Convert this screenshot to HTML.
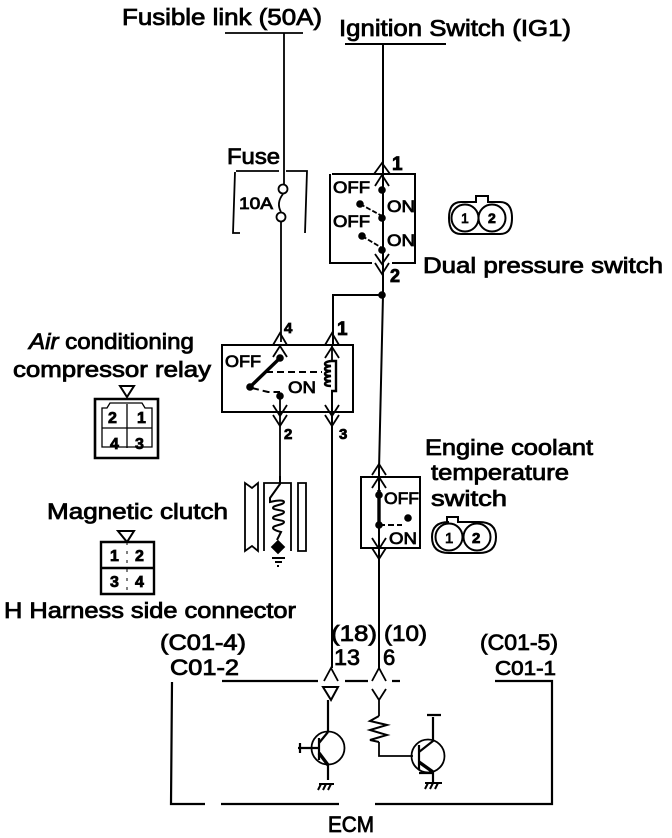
<!DOCTYPE html>
<html><head><meta charset="utf-8">
<style>
html,body{margin:0;padding:0;background:#fff}
svg{display:block}
text{font-family:"Liberation Sans",sans-serif;fill:#000;stroke:#000;stroke-width:.8}
.l{font-size:23px}
.m{font-size:22px}
.s{font-size:17px}
.n{font-size:15px;font-weight:bold}
</style></head><body>
<svg width="672" height="838" viewBox="0 0 672 838" xmlns="http://www.w3.org/2000/svg">
<g fill="none" stroke="#000" stroke-width="1.8">
<!-- top bars and wires -->
<path d="M225 33H303M284 33V184M281 222V342" />
<path d="M345 44H446" stroke-width="2"/>
<path d="M383 44V295L379 470V668" stroke-width="2"/>
<path d="M283 194Q276 203 281 212" />
<circle cx="283" cy="189" r="4.5"/><circle cx="281" cy="217" r="4.5"/>
<!-- fuse box -->
<path d="M236 171H279M286 171H307L305 233M235 172L233 233H240"/>
<!-- dual pressure box -->
<path d="M332 174H415V263H392M372 263H330V174" stroke-width="2"/>
<path d="M374 174L382 163L390 174M375 186L382 175L389 186M375 254L382 264L389 254M375 263L382 274L389 263"/>
<path d="M360 204L382 216M362 236L382 248" stroke-dasharray="5 2"/>
<!-- branch -->
<path d="M382 295H333V345" stroke-width="2"/>
<path d="M332 392V668" stroke-width="2"/>
<!-- relay box -->
<path d="M222 345H353V412H222Z" stroke-width="2"/>
<path d="M273 345L280 333L287 345M273 357L280 346L287 357M325 345L332 333L339 345M325 358L332 347L339 358M273 405L280 416L287 405M273 415L280 426L287 415M325 405L332 416L339 405M325 415L332 426L339 415"/>
<path d="M280 412V476M280 395V412"/>
<path d="M250 387L280 358" stroke-width="3.4"/>
<path d="M252 388L268 392H280M266 372H322" stroke-width="2" stroke-dasharray="7 4"/>
<path d="M332 345V362"/>
<path d="M331 361c-8 1-8 5 0 5c-8 1-8 5 0 5c-8 1-8 5 0 5c-8 1-8 5 0 5c-8 1-8 5 0 5M331 361h5v30h-5" stroke-width="2.4"/>
<!-- relay connector -->
<path d="M95 399H158V458H95Z" stroke-width="2.6"/>
<path d="M102 408V447H152V408H145L142 403H110L107 408ZM102 428H152M127 404V448" stroke-width="1.3"/>
<path d="M120 386H134L127 397Z" stroke-width="2"/>
<!-- clutch -->
<path d="M245 483V551L252 546L258 551V483L252 488Z"/>
<path d="M264 551V483H291V551"/>
<path d="M298 483H306V551H298Z"/>
<path d="M280 476V484L270 498V502c8-2 14-2 14 0c0 3-11 3-11 6c0 2 11 2 11 4c0 3-11 3-11 6c0 2 11 2 11 4c0 3-11 3-11 6c0 2 8 4 8 4L277 540" stroke-width="2"/>
<path d="M278 541L284 547L278 553L272 547Z" fill="#000"/>
<path d="M272 558H285M275 562H282M277 566H279" stroke-width="2"/>
<!-- magnetic connector -->
<path d="M101 542H154V594H101ZM101 568H154" stroke-width="2.4"/>
<path d="M127 542V594" stroke-dasharray="3 6" stroke-width="1"/>
<path d="M118 531H134L127 542Z" stroke-width="2"/>
<!-- engine switch -->
<path d="M361 477H420V548H361Z" stroke-width="2"/>
<path d="M372 475L379 464L386 475M372 488L379 477L386 488M372 538L379 549L386 538M372 548L379 559L386 548"/>
<path d="M379 525H402" stroke-width="2" stroke-dasharray="6 3"/>
<path d="M379 490V526" stroke-width="3.4"/>
<!-- connectors -->
<g stroke-width="2">
<path d="M476 202H461Q449 202 449 218Q449 234 461 234H500Q512 234 512 218Q512 202 500 202H488V196H476Z"/>
<circle cx="465" cy="218" r="13.5"/><circle cx="492" cy="218" r="13.5"/>
<path d="M449 522Q432 522 432 537Q432 553 449 553H479Q496 553 496 537Q496 522 479 522H458V517H447V522"/>
<circle cx="449" cy="537" r="13.5"/><circle cx="477" cy="537" r="13.5"/>
</g>
<!-- ECM box -->
<path d="M172 682L171 804H205M221 804H339M375 804H552V681H495M222 681H318M345 681H368M392 681H400" stroke-width="2.2"/>
<path d="M324 681L331 668L338 681M372 681L379 668L386 681"/>
<path d="M323 687H338L331 700Z" stroke-width="2"/>
<path d="M372 689L379 700L386 689M379 700V716M379 742V756H413" stroke-width="1.8"/>
<path d="M379 716L370 721L387 725L370 730L387 735L370 740L379 742" stroke-width="2"/>
<path d="M328 700V731" stroke-width="2.2"/>
<!-- transistor 1 -->
<circle cx="328" cy="748" r="16.5"/>
<path d="M298 748H319M300 743V753M319 738V760M319 743L328 732" stroke-width="2.2"/>
<path d="M319 753L328 765" stroke-width="3.4"/>
<path d="M328 765V780" stroke-width="2.2"/>
<path d="M319 784H334M321 784L318 790M326 784L323 790M331 784L328 790" stroke-width="2"/>
<!-- transistor 2 -->
<circle cx="428" cy="756" r="16.5"/>
<path d="M419 745V770M419 752L433 741V717M427 715H441M419 773H433" stroke-width="2.2"/>
<path d="M419 762L433 772" stroke-width="3.4"/>
<path d="M433 772V782" stroke-width="2.2"/>
<path d="M425 783H442M428 783L425 789M433 783L430 789M438 783L435 789" stroke-width="2"/>
</g>
<!-- dots -->
<g fill="#000">
<circle cx="382" cy="190" r="3.8"/><circle cx="382" cy="218" r="3.8"/><circle cx="382" cy="250" r="3.8"/>
<circle cx="360" cy="204" r="3.8"/><circle cx="362" cy="236" r="3.8"/><circle cx="382" cy="295" r="3.8"/>
<circle cx="280" cy="358" r="3.8"/><circle cx="250" cy="387" r="3.8"/><circle cx="280" cy="396" r="3.8"/>
<circle cx="379" cy="495" r="3.8"/><circle cx="379" cy="525" r="3.8"/><circle cx="408" cy="518" r="3.8"/>
</g>
<!-- labels -->
<text class="l" x="122" y="25" textLength="200" lengthAdjust="spacingAndGlyphs">Fusible link (50A)</text>
<text class="l" x="339" y="36" textLength="232" lengthAdjust="spacingAndGlyphs">Ignition Switch (IG1)</text>
<text class="m" x="227" y="164" textLength="53" lengthAdjust="spacingAndGlyphs">Fuse</text>
<text class="s" x="239" y="209" textLength="34" lengthAdjust="spacingAndGlyphs">10A</text>
<text class="s" x="333" y="193" textLength="37" lengthAdjust="spacingAndGlyphs">OFF</text>
<text class="s" x="333" y="227" textLength="37" lengthAdjust="spacingAndGlyphs">OFF</text>
<text class="s" x="387" y="212" textLength="28" lengthAdjust="spacingAndGlyphs">ON</text>
<text class="s" x="387" y="246" textLength="28" lengthAdjust="spacingAndGlyphs">ON</text>
<text class="n" x="392" y="170" style="font-size:19px">1</text>
<text class="n" x="390" y="282" style="font-size:18px">2</text>
<text class="m" x="423" y="273" textLength="240" lengthAdjust="spacingAndGlyphs">Dual pressure switch</text>
<text class="m" x="29" y="349" textLength="165" lengthAdjust="spacingAndGlyphs"><tspan font-style="italic">Air</tspan> conditioning</text>
<text class="m" x="13" y="377" textLength="198" lengthAdjust="spacingAndGlyphs">compressor relay</text>
<text class="s" x="225" y="367" textLength="36" lengthAdjust="spacingAndGlyphs">OFF</text>
<text class="s" x="288" y="393" textLength="28" lengthAdjust="spacingAndGlyphs">ON</text>
<text class="n" x="284" y="333">4</text>
<text class="n" x="337" y="335" style="font-size:19px">1</text>
<text class="n" x="284" y="439">2</text>
<text class="n" x="339" y="439">3</text>
<text class="n" x="108" y="423" style="font-size:16px">2</text>
<text class="n" x="137" y="423" style="font-size:16px">1</text>
<text class="n" x="110" y="449" style="font-size:16px">4</text>
<text class="n" x="135" y="449" style="font-size:16px">3</text>
<text class="m" x="47" y="519" textLength="181" lengthAdjust="spacingAndGlyphs">Magnetic clutch</text>
<text class="n" x="110" y="561" style="font-size:16px">1</text>
<text class="n" x="135" y="561" style="font-size:16px">2</text>
<text class="n" x="110" y="587" style="font-size:16px">3</text>
<text class="n" x="135" y="587" style="font-size:16px">4</text>
<text class="m" x="4" y="618" textLength="292" lengthAdjust="spacingAndGlyphs">H Harness side connector</text>
<text class="m" x="425" y="455" textLength="168" lengthAdjust="spacingAndGlyphs">Engine coolant</text>
<text class="m" x="431" y="480" textLength="138" lengthAdjust="spacingAndGlyphs">temperature</text>
<text class="m" x="431" y="506" textLength="76" lengthAdjust="spacingAndGlyphs">switch</text>
<text class="s" x="384" y="504" textLength="35" lengthAdjust="spacingAndGlyphs">OFF</text>
<text class="s" x="389" y="544" textLength="28" lengthAdjust="spacingAndGlyphs">ON</text>
<text class="n" x="461" y="223" style="font-size:14px;font-weight:normal">1</text>
<text class="n" x="488" y="223" style="font-size:14px">2</text>
<text class="n" x="445" y="543" style="font-size:15px;font-weight:normal">1</text>
<text class="n" x="472" y="543" style="font-size:15px">2</text>
<text class="m" x="160" y="650" textLength="86" lengthAdjust="spacingAndGlyphs">(C01-4)</text>
<text class="m" x="170" y="675" textLength="69" lengthAdjust="spacingAndGlyphs">C01-2</text>
<text class="m" x="331" y="641" textLength="46" lengthAdjust="spacingAndGlyphs">(18)</text>
<text class="m" x="334" y="665" textLength="26" lengthAdjust="spacingAndGlyphs">13</text>
<text class="m" x="384" y="641" textLength="43" lengthAdjust="spacingAndGlyphs">(10)</text>
<text class="m" x="383" y="665">6</text>
<text class="m" x="480" y="650" textLength="78" lengthAdjust="spacingAndGlyphs">(C01-5)</text>
<text class="s" x="495" y="675" textLength="61" lengthAdjust="spacingAndGlyphs" style="font-size:20px">C01-1</text>
<text class="m" x="328" y="832" textLength="46" lengthAdjust="spacingAndGlyphs">ECM</text>
</svg>
</body></html>
